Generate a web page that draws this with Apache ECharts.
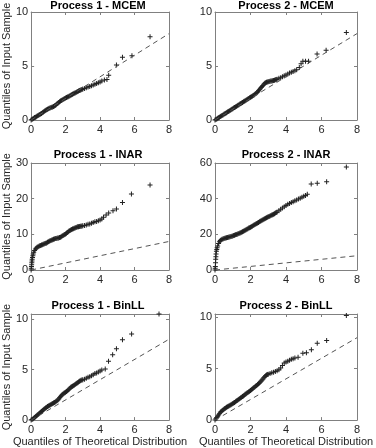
<!DOCTYPE html>
<html>
<head>
<meta charset="utf-8">
<script src="https://cdn.jsdelivr.net/npm/echarts@6/dist/echarts.min.js"></script>
<style>
  html, body { margin: 0; padding: 0; background: #fff; }
  #chart { width: 376px; height: 448px; }
</style>
</head>
<body>
<div id="chart"></div>
<script>
// qq points: [theoretical quantile, sample quantile]
var p1Mcem = [[0,0],[0.05,0.05],[0.1,0.12],[0.15,0.17],[0.2,0.22],[0.25,0.26],[0.3,0.3],[0.35,0.36],[0.4,0.42],[0.45,0.46],[0.5,0.5],[0.55,0.55],[0.6,0.6],[0.65,0.66],[0.7,0.72],[0.75,0.79],[0.8,0.85],[0.85,0.9],[0.9,0.95],[0.95,1.0],[1.0,1.05],[1.05,1.09],[1.1,1.12],[1.15,1.15],[1.2,1.18],[1.25,1.21],[1.3,1.25],[1.35,1.3],[1.4,1.35],[1.45,1.42],[1.5,1.5],[1.55,1.56],[1.6,1.62],[1.65,1.69],[1.7,1.75],[1.75,1.8],[1.8,1.85],[1.85,1.9],[1.9,1.95],[1.95,1.99],[2.0,2.03],[2.05,2.08],[2.1,2.12],[2.15,2.16],[2.2,2.2],[2.25,2.25],[2.3,2.3],[2.35,2.34],[2.4,2.38],[2.45,2.43],[2.5,2.47],[2.55,2.51],[2.6,2.55],[2.65,2.59],[2.7,2.63],[2.75,2.68],[2.8,2.72],[2.85,2.76],[2.9,2.8],[2.95,2.83],[3.0,2.86],[3.1,2.92],[3.2,2.98],[3.3,3.05],[3.4,3.1],[3.5,3.18],[3.6,3.25],[3.7,3.3],[3.8,3.38],[3.9,3.45],[4.0,3.52],[4.1,3.6],[4.25,3.7],[4.4,3.75],[4.5,4.15],[4.95,5.1],[5.3,5.8],[5.85,5.95],[6.9,7.7]];
var p2Mcem = [[0,0],[0.05,0.05],[0.1,0.1],[0.15,0.16],[0.2,0.21],[0.25,0.26],[0.3,0.32],[0.35,0.37],[0.4,0.42],[0.45,0.47],[0.5,0.53],[0.55,0.58],[0.6,0.63],[0.65,0.68],[0.7,0.74],[0.75,0.79],[0.8,0.84],[0.85,0.89],[0.9,0.95],[0.95,1.0],[1.0,1.05],[1.05,1.1],[1.1,1.16],[1.15,1.21],[1.2,1.26],[1.25,1.31],[1.3,1.37],[1.35,1.42],[1.4,1.47],[1.45,1.52],[1.5,1.58],[1.55,1.63],[1.6,1.68],[1.65,1.73],[1.7,1.79],[1.75,1.84],[1.8,1.89],[1.85,1.94],[1.9,2.0],[1.95,2.05],[2.0,2.1],[2.05,2.15],[2.1,2.21],[2.15,2.26],[2.2,2.32],[2.25,2.38],[2.3,2.45],[2.35,2.52],[2.4,2.6],[2.45,2.7],[2.5,2.8],[2.55,2.9],[2.6,3.0],[2.65,3.1],[2.7,3.2],[2.75,3.3],[2.8,3.4],[2.85,3.46],[2.9,3.5],[2.95,3.53],[3.0,3.55],[3.05,3.57],[3.1,3.58],[3.15,3.6],[3.2,3.62],[3.25,3.64],[3.3,3.66],[3.35,3.69],[3.4,3.72],[3.45,3.75],[3.5,3.78],[3.6,3.86],[3.7,3.92],[3.8,4.0],[3.9,4.1],[4.0,4.16],[4.1,4.25],[4.2,4.35],[4.3,4.42],[4.4,4.5],[4.5,4.56],[4.6,4.65],[4.75,4.85],[4.85,5.2],[4.95,5.45],[5.1,5.45],[5.27,5.45],[5.75,6.1],[6.26,6.45],[7.4,8.1]];
var p1Inar = [[0,0],[0.01,0.5],[0.02,1],[0.03,1.5],[0.04,2],[0.05,2.5],[0.06,3],[0.08,3.5],[0.1,4],[0.12,4.5],[0.15,5],[0.2,5.5],[0.25,5.9],[0.3,6.2],[0.35,6.35],[0.4,6.5],[0.45,6.65],[0.5,6.8],[0.55,6.9],[0.6,7.0],[0.65,7.1],[0.7,7.2],[0.75,7.3],[0.8,7.4],[0.85,7.5],[0.9,7.6],[0.95,7.75],[1.0,7.9],[1.05,8.05],[1.1,8.2],[1.15,8.3],[1.2,8.4],[1.25,8.5],[1.3,8.6],[1.35,8.7],[1.4,8.8],[1.45,8.85],[1.5,8.9],[1.55,8.95],[1.6,9.0],[1.65,9.1],[1.7,9.2],[1.75,9.35],[1.8,9.5],[1.85,9.65],[1.9,9.8],[1.95,9.95],[2.0,10.1],[2.05,10.3],[2.1,10.5],[2.15,10.7],[2.2,10.9],[2.25,11.05],[2.3,11.2],[2.35,11.35],[2.4,11.5],[2.45,11.6],[2.5,11.7],[2.55,11.8],[2.6,11.9],[2.65,12.0],[2.7,12.1],[2.75,12.15],[2.8,12.2],[2.85,12.25],[2.9,12.3],[2.95,12.35],[3.0,12.4],[3.1,12.5],[3.2,12.6],[3.3,12.8],[3.4,12.9],[3.5,13.1],[3.6,13.3],[3.7,13.5],[3.8,13.6],[3.9,13.8],[4.0,14.0],[4.1,14.3],[4.2,14.8],[4.35,15.4],[4.5,16.0],[4.75,16.6],[4.95,17.1],[5.3,18.9],[5.82,21.3],[6.9,23.8]];
var p2Inar = [[0,0],[0.01,1],[0.02,2],[0.03,4],[0.04,6],[0.05,7.5],[0.06,9],[0.08,10.5],[0.1,11.5],[0.12,12.5],[0.15,13.5],[0.2,14.8],[0.25,15.8],[0.3,16.5],[0.35,16.9],[0.4,17.2],[0.45,17.4],[0.5,17.6],[0.55,17.75],[0.6,17.9],[0.65,18.05],[0.7,18.2],[0.75,18.35],[0.8,18.5],[0.85,18.65],[0.9,18.8],[0.95,18.95],[1.0,19.1],[1.05,19.3],[1.1,19.5],[1.15,19.7],[1.2,19.9],[1.25,20.1],[1.3,20.3],[1.35,20.5],[1.4,20.7],[1.45,20.9],[1.5,21.1],[1.55,21.4],[1.6,21.7],[1.65,22.0],[1.7,22.3],[1.75,22.6],[1.8,22.9],[1.85,23.2],[1.9,23.5],[1.95,23.75],[2.0,24.0],[2.05,24.3],[2.1,24.6],[2.15,24.9],[2.2,25.2],[2.25,25.5],[2.3,25.8],[2.35,26.1],[2.4,26.4],[2.45,26.7],[2.5,27.0],[2.55,27.3],[2.6,27.6],[2.65,27.9],[2.7,28.2],[2.75,28.5],[2.8,28.8],[2.85,29.05],[2.9,29.3],[2.95,29.55],[3.0,29.8],[3.05,30.05],[3.1,30.3],[3.15,30.55],[3.2,30.8],[3.25,31.05],[3.3,31.3],[3.35,31.6],[3.4,31.9],[3.45,32.2],[3.5,32.5],[3.6,33.2],[3.7,34.0],[3.8,34.8],[3.9,35.5],[4.0,36.2],[4.1,36.8],[4.2,37.3],[4.3,37.8],[4.4,38.3],[4.5,38.8],[4.6,39.3],[4.7,39.8],[4.8,40.3],[4.9,40.8],[5.0,41.3],[5.1,41.8],[5.2,42.5],[5.42,48.2],[5.76,48.7],[6.29,49.5],[7.4,57.7]];
var p1Binll = [[0,0],[0.05,0.05],[0.1,0.12],[0.15,0.18],[0.2,0.25],[0.25,0.32],[0.3,0.4],[0.35,0.47],[0.4,0.55],[0.45,0.62],[0.5,0.7],[0.55,0.77],[0.6,0.85],[0.65,0.92],[0.7,1.0],[0.75,1.08],[0.8,1.15],[0.85,1.22],[0.9,1.28],[0.95,1.34],[1.0,1.4],[1.05,1.45],[1.1,1.5],[1.15,1.55],[1.2,1.6],[1.25,1.65],[1.3,1.7],[1.35,1.75],[1.4,1.8],[1.45,1.86],[1.5,1.92],[1.55,2.0],[1.6,2.1],[1.65,2.2],[1.7,2.3],[1.75,2.4],[1.8,2.5],[1.85,2.58],[1.9,2.65],[1.95,2.7],[2.0,2.75],[2.05,2.82],[2.1,2.9],[2.15,2.97],[2.2,3.05],[2.25,3.15],[2.3,3.25],[2.35,3.3],[2.4,3.35],[2.45,3.4],[2.5,3.45],[2.55,3.52],[2.6,3.6],[2.65,3.65],[2.7,3.7],[2.75,3.78],[2.8,3.85],[2.85,3.9],[2.9,3.95],[2.95,3.98],[3.0,4.0],[3.1,4.05],[3.2,4.15],[3.3,4.25],[3.4,4.3],[3.5,4.4],[3.6,4.5],[3.7,4.6],[3.8,4.65],[3.9,4.75],[4.0,4.85],[4.1,4.95],[4.3,5.05],[4.49,5.82],[4.73,6.47],[4.95,7.05],[5.3,7.94],[5.83,8.52],[7.42,10.5]];
var p2Binll = [[0,0],[0.05,0.12],[0.1,0.25],[0.15,0.38],[0.2,0.5],[0.25,0.62],[0.3,0.75],[0.35,0.83],[0.4,0.9],[0.45,0.98],[0.5,1.05],[0.55,1.12],[0.6,1.18],[0.65,1.24],[0.7,1.3],[0.75,1.35],[0.8,1.4],[0.85,1.45],[0.9,1.5],[0.95,1.55],[1.0,1.6],[1.05,1.66],[1.1,1.72],[1.15,1.78],[1.2,1.85],[1.25,1.91],[1.3,1.97],[1.35,2.03],[1.4,2.1],[1.45,2.16],[1.5,2.22],[1.55,2.28],[1.6,2.35],[1.65,2.42],[1.7,2.5],[1.75,2.56],[1.8,2.63],[1.85,2.69],[1.9,2.75],[1.95,2.81],[2.0,2.88],[2.05,2.95],[2.1,3.02],[2.15,3.1],[2.2,3.17],[2.25,3.23],[2.3,3.3],[2.35,3.37],[2.4,3.45],[2.45,3.52],[2.5,3.6],[2.55,3.7],[2.6,3.8],[2.65,3.9],[2.7,4.0],[2.75,4.1],[2.8,4.2],[2.85,4.3],[2.9,4.38],[2.95,4.42],[3.0,4.45],[3.1,4.52],[3.2,4.6],[3.3,4.65],[3.4,4.72],[3.5,4.8],[3.6,4.9],[3.7,5.05],[3.8,5.3],[3.9,5.55],[4.0,5.65],[4.1,5.72],[4.2,5.8],[4.3,5.9],[4.4,5.95],[4.5,6.03],[4.68,6.1],[4.95,6.5],[5.15,6.55],[5.43,6.83],[5.76,7.45],[6.29,7.72],[7.4,10.15]];

var titles = ['Process 1 - MCEM', 'Process 2 - MCEM', 'Process 1 - INAR', 'Process 2 - INAR', 'Process 1 - BinLL', 'Process 2 - BinLL'];
var yMax = [10, 10, 30, 60, 10.5, 10.3];
var yStep = [5, 5, 10, 20, 5, 5];
var xMax = 8, xStep = 2;
var refLine = [[0, 0], [8, 8]];
var yName = 'Quantiles of Input Sample';
var xName = 'Quantiles of Theoretical Distribution';

var panels = [p1Mcem, p2Mcem, p1Inar, p2Inar, p1Binll, p2Binll];
var lefts = [27, 215];
var tops = [12, 163, 314];
var heights = [108, 107, 107];
var titleTops = [0, 149, 300];

var ink = '#262626';
var frame = '#808080';
var plus = 'path://M2,0H3V2H5V3H3V5H2V3H0V2H2Z';
var font = 'Liberation Sans, Arial, Helvetica, sans-serif';

var grid = [], xAxis = [], yAxis = [], series = [], title = [];

panels.forEach(function (pts, i) {
  var col = i % 2, row = Math.floor(i / 2);
  grid.push({ left: lefts[col], top: tops[row], width: 142, height: heights[row] });
  title.push({
    text: titles[i], left: lefts[col] + 71, top: titleTops[row], textAlign: 'center', padding: 0,
    textStyle: { fontSize: 11, fontWeight: 'bold', color: '#000', fontFamily: font }
  });

  var tick = { show: true, inside: true, length: 3, lineStyle: { color: frame } };
  var line = { show: true, onZero: false, lineStyle: { color: frame, width: 1 } };
  var step = yStep[i];

  xAxis.push({
    gridIndex: i, type: 'value', position: 'bottom', min: 0, max: xMax, interval: xStep,
    axisLine: line, axisTick: tick, splitLine: { show: false },
    axisLabel: { color: ink, fontSize: 11, margin: 4, fontFamily: font },
    name: row === 2 ? xName : '', nameLocation: 'middle', nameGap: 13,
    nameTextStyle: { color: ink, fontSize: 11, fontFamily: font }
  });
  xAxis.push({
    gridIndex: i, type: 'value', position: 'top', min: 0, max: xMax, interval: xStep,
    axisLine: line, axisTick: tick, axisLabel: { show: false }, splitLine: { show: false }
  });
  yAxis.push({
    gridIndex: i, type: 'value', position: 'left', min: 0, max: yMax[i], interval: step,
    axisLine: line, axisTick: tick, splitLine: { show: false },
    axisLabel: {
      color: ink, fontSize: 11, margin: 3, fontFamily: font,
      formatter: function (v) { return v % step === 0 ? String(v) : ''; }
    },
    name: col === 0 ? yName : '', nameLocation: 'middle', nameGap: 13,
    nameTextStyle: { color: ink, fontSize: 11, fontFamily: font }
  });
  yAxis.push({
    gridIndex: i, type: 'value', position: 'right', min: 0, max: yMax[i], interval: step,
    axisLine: line, axisTick: tick, axisLabel: { show: false }, splitLine: { show: false }
  });

  series.push({
    type: 'line', xAxisIndex: 2 * i, yAxisIndex: 2 * i, data: refLine,
    symbol: 'none', silent: true,
    lineStyle: { color: '#555', width: 1, type: [5, 4] }
  });
  series.push({
    type: 'scatter', xAxisIndex: 2 * i, yAxisIndex: 2 * i, data: pts,
    symbol: plus, symbolSize: 5, clip: false,
    itemStyle: { color: '#222', opacity: 1 }
  });
});

var chart = echarts.init(document.getElementById('chart'), null, { renderer: 'canvas' });
chart.setOption({
  animation: false,
  backgroundColor: '#fff',
  title: title,
  grid: grid,
  xAxis: xAxis,
  yAxis: yAxis,
  series: series
});
</script>
</body>
</html>
